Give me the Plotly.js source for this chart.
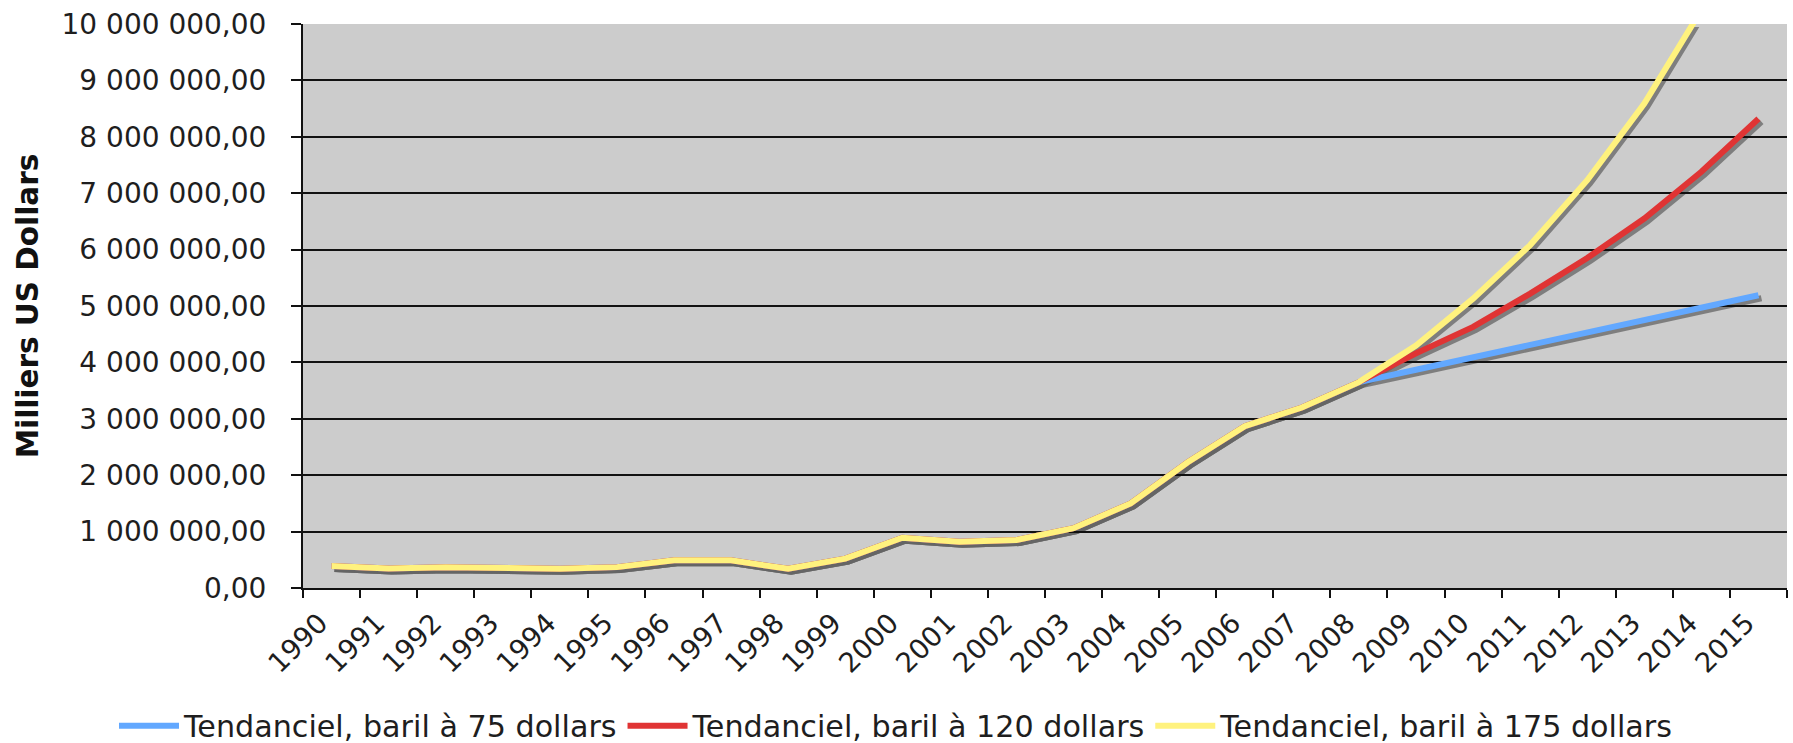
<!DOCTYPE html>
<html>
<head>
<meta charset="utf-8">
<script src="https://cdn.plot.ly/plotly-3.0.1.min.js"></script>
<style>
  html, body { margin: 0; padding: 0; background: #ffffff; }
  #graphique { width: 1793px; height: 743px; }
</style>
</head>
<body>
<div id="graphique"></div>
<script>
// Années (catégories de l'axe horizontal)
const annees = ['1990', '1991', '1992', '1993', '1994', '1995', '1996', '1997', '1998',
                '1999', '2000', '2001', '2002', '2003', '2004', '2005', '2006', '2007',
                '2008', '2009', '2010', '2011', '2012', '2013', '2014', '2015'];

// Valeurs observées 1990-2008, communes aux trois scénarios (milliers de US dollars)
const historique = [390000, 345000, 370000, 350000, 340000, 370000, 490000, 490000, 340000,
                    520000, 890000, 820000, 850000, 1060000, 1500000, 2230000, 2870000, 3200000,
                    3650000];

// Projections 2009-2015 selon le prix du baril
const projection75  = [3870000, 4090000, 4310000, 4530000, 4750000, 4970000, 5190000];
const projection120 = [4160000, 4630000, 5220000, 5850000, 6550000, 7380000, 8320000];
const projection175 = [4300000, 5130000, 6080000, 7230000, 8590000, 10250000, 12200000];

const libelles = ['Tendanciel, baril à 75 dollars',
                  'Tendanciel, baril à 120 dollars',
                  'Tendanciel, baril à 175 dollars'];

// --- mise en forme ---
const couleurs = ['#62a8ff', '#e03434', '#fff27e'];
const couleurOmbre = 'rgba(100,100,100,0.75)';
const epaisseur = 6;

const L = 1793, H = 743;
const marge = { l: 303, r: 6, t: 24, b: 155 };
const decalage = 3;                              // décalage de l'ombre portée, en px
const largeurZone = L - marge.l - marge.r;       // 1484
const hauteurZone = H - marge.t - marge.b;       // 564
const largeurPapier = largeurZone + decalage;
const hauteurPapier = hauteurZone + decalage;
const basPapier = H - (marge.b - decalage);      // ordonnée écran du bas du repère papier

const scenarios = [projection75, projection120, projection175];
const traces = [];

// Ombres portées : mêmes données, sur un repère décalé vers le bas et la droite
scenarios.forEach((proj) => {
  traces.push({
    type: 'scatter', mode: 'lines',
    x: annees, y: historique.concat(proj),
    xaxis: 'x', yaxis: 'y',
    line: { color: couleurOmbre, width: epaisseur },
    showlegend: false, hoverinfo: 'skip'
  });
});

// Courbes principales
scenarios.forEach((proj, i) => {
  traces.push({
    type: 'scatter', mode: 'lines',
    name: libelles[i],
    x: annees, y: historique.concat(proj),
    xaxis: 'x2', yaxis: 'y2',
    line: { color: couleurs[i], width: epaisseur }
  });
});

const etendueY = [0, 10000000];
const etendueX = [-0.5, annees.length - 0.5];

const layout = {
  width: L, height: H,
  margin: { l: marge.l, r: marge.r - decalage, t: marge.t, b: marge.b - decalage, pad: 0,
            autoexpand: false },
  paper_bgcolor: '#ffffff',
  plot_bgcolor: 'rgba(0,0,0,0)',
  separators: ', ',
  font: { family: 'DejaVu Sans, Verdana, sans-serif', size: 27, color: '#1e1e1e' },
  showlegend: true,
  legend: {
    orientation: 'h',
    xref: 'paper', yref: 'paper',
    x: (114 - marge.l) / largeurPapier, xanchor: 'left',
    y: -(726 - basPapier) / hauteurPapier, yanchor: 'middle',
    font: { size: 30.2, color: '#1e1e1e' },
    itemwidth: 60,
    tracegroupgap: 0,
    bgcolor: 'rgba(0,0,0,0)'
  },
  // repère de l'ombre (invisible)
  xaxis: {
    domain: [decalage / largeurPapier, 1], anchor: 'y',
    type: 'category', categoryarray: annees, range: etendueX,
    visible: false, fixedrange: true
  },
  yaxis: {
    domain: [0, hauteurZone / hauteurPapier], anchor: 'x',
    range: etendueY, visible: false, fixedrange: true
  },
  // repère principal
  xaxis2: {
    domain: [0, largeurZone / largeurPapier], anchor: 'y2',
    type: 'category', categoryarray: annees, range: etendueX,
    tickson: 'boundaries',
    ticks: 'outside', ticklen: 8, tickwidth: 2, tickcolor: '#111',
    tickangle: -45,
    ticklabelstandoff: 6,
    ticklabelshift: -12,
    tickfont: { size: 27.5 },
    showline: true, linecolor: '#111', linewidth: 2,
    showgrid: false, zeroline: false, fixedrange: true
  },
  yaxis2: {
    domain: [decalage / hauteurPapier, 1], anchor: 'x2',
    range: etendueY,
    tick0: 0, dtick: 1000000,
    tickformat: ',.2f',
    ticks: 'outside', ticklen: 10, tickwidth: 2, tickcolor: '#111',
    ticklabelstandoff: 19,
    tickfont: { size: 28 },
    showline: true, linecolor: '#111', linewidth: 2,
    showgrid: true, gridcolor: '#111', gridwidth: 2,
    zeroline: false, fixedrange: true,
    title: {
      text: 'Milliers US Dollars',
      font: { family: 'DejaVu Sans, Verdana, sans-serif', size: 29.5, weight: 'bold', color: '#111' },
      standoff: 14
    }
  },
  shapes: [{
    type: 'rect', xref: 'paper', yref: 'paper', layer: 'below',
    x0: 0, x1: largeurZone / largeurPapier,
    y0: decalage / hauteurPapier, y1: 1,
    fillcolor: '#cccccc', line: { width: 0 }
  }]
};

Plotly.newPlot('graphique', traces, layout, { staticPlot: true, displayModeBar: false });
</script>
</body>
</html>
